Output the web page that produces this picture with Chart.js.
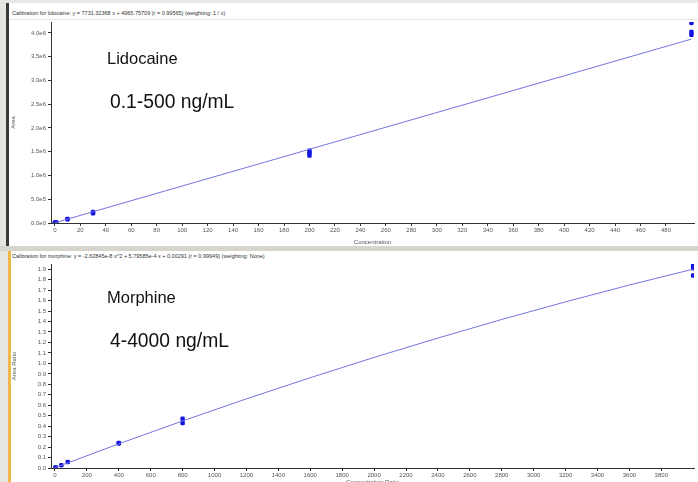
<!DOCTYPE html>
<html>
<head>
<meta charset="utf-8">
<script src="https://cdn.jsdelivr.net/npm/chart.js@4"></script>
<style>
  html, body { margin: 0; padding: 0; background: #fff; }
  #page { position: relative; width: 698px; height: 482px; overflow: hidden; background: #fff; font-family: "Liberation Sans", Arial, sans-serif; }
  .band { position: absolute; }
  .ptitle { position: absolute; left: 12px; font-size: 5.5px; color: #333; white-space: nowrap; }
  .note { position: absolute; color: #111; white-space: nowrap; }
  .box { position: absolute; }
</style>
</head>
<body>
<div id="page">
  <div class="band" style="left:0;top:0;width:698px;height:3px;background:#e8e8e4"></div>
  <div class="band" style="left:0;top:0;width:6px;height:246px;background:#e6e6e0"></div>
  <div class="band" style="left:6px;top:3px;width:3px;height:243px;background:#3a3a3a"></div>
  <div class="band" style="left:9px;top:19px;width:689px;height:1px;background:#e4e4e4"></div>
  <div class="ptitle" id="t1" style="top:10px"></div>

  <div class="band" style="left:0;top:246px;width:698px;height:5px;background:#d6d4cc"></div>
  <div class="band" style="left:0;top:251px;width:8px;height:231px;background:#e6e6e0"></div>
  <div class="band" style="left:8px;top:251px;width:3px;height:231px;background:#f0b848"></div>
  <div class="ptitle" id="t2" style="top:253px"></div>

  <div class="box" style="left:10px;top:16px;width:688px;height:230px"><canvas id="lido"></canvas></div>
  <div class="box" style="left:11px;top:252px;width:687px;height:234px"><canvas id="morph"></canvas></div>

  <div class="note" style="left:107px;top:49px;font-size:16.5px">Lidocaine</div>
  <div class="note" style="left:110px;top:91px;font-size:19.3px">0.1-500 ng/mL</div>
  <div class="note" style="left:107px;top:288px;font-size:16.5px">Morphine</div>
  <div class="note" style="left:110px;top:330px;font-size:19.3px">4-4000 ng/mL</div>
</div>
<script>
const lidoTitle = "Calibration for lidocaine: y = 7731.32368 x + 4965.75709 (r = 0.99565) (weighting: 1 / x)";
const morphTitle = "Calibration for morphine: y = -2.62845e-8 x^2 + 5.79585e-4 x + 0.00291 (r = 0.99949) (weighting: None)";

// lidocaine calibration points
const lidoConc = [0.1, 0.1, 1, 1, 10, 10, 30, 30, 200, 200, 200, 500, 500, 500];
const lidoArea = [5000, 6500, 12000, 13000, 85000, 80000, 230000, 205000, 1420000, 1470000, 1520000, 3960000, 4020000, 4210000];
const lidoFitConc = [0, 500];
const lidoFitArea = [4966, 3870600];
const lidoYTicks = [0, 500000, 1000000, 1500000, 2000000, 2500000, 3000000, 3500000, 4000000];
const lidoXTicks = [0, 20, 40, 60, 80, 100, 120, 140, 160, 180, 200, 220, 240, 260, 280, 300, 320, 340, 360, 380, 400, 420, 440, 460, 480];

// morphine calibration points
const morphConc = [4, 4, 40, 80, 400, 400, 800, 800, 4000, 4000, 4000];
const morphRatio = [0.003, 0.005, 0.027, 0.057, 0.235, 0.24, 0.43, 0.47, 1.84, 1.91, 1.935];
const morphFitConc = [0, 400, 800, 1200, 1600, 2000, 2400, 2800, 3200, 3600, 4000];
const morphFitRatio = [0.003, 0.231, 0.450, 0.661, 0.863, 1.057, 1.242, 1.420, 1.588, 1.749, 1.901];
const morphYTicks = [0, 0.1, 0.2, 0.3, 0.4, 0.5, 0.6, 0.7, 0.8, 0.9, 1.0, 1.1, 1.2, 1.3, 1.4, 1.5, 1.6, 1.7, 1.8, 1.9];
const morphXTicks = [0, 200, 400, 600, 800, 1000, 1200, 1400, 1600, 1800, 2000, 2200, 2400, 2600, 2800, 3000, 3200, 3400, 3600, 3800];

document.getElementById("t1").textContent = lidoTitle;
document.getElementById("t2").textContent = morphTitle;

const AXIS = "#333";
const TXT = "#555";
const FONT = { family: "'Liberation Sans', Arial, sans-serif", size: 6 };

const pts = (xs, ys) => xs.map((x, i) => ({ x, y: ys[i] }));

function makeChart(id, o) {
  return new Chart(document.getElementById(id), {
    type: "scatter",
    data: {
      datasets: [
        {
          type: "line", data: pts(o.fitX, o.fitY),
          borderColor: "#7474e0", borderWidth: 1, pointRadius: 0, tension: 0, fill: false,
        },
        {
          data: pts(o.x, o.y),
          pointStyle: "rectRounded", pointRadius: 2.6,
          backgroundColor: "#1414e0", borderColor: "#1414e0", borderWidth: 0,
        },
      ],
    },
    options: {
      animation: false,
      responsive: true,
      maintainAspectRatio: false,
      layout: { padding: { left: 0, right: 4, top: o.padTop, bottom: 0 } },
      plugins: { legend: { display: false }, tooltip: { enabled: false } },
      scales: {
        x: {
          type: "linear", min: o.xMin, max: o.xMax,
          afterBuildTicks: s => { s.ticks = o.xTicks.map(v => ({ value: v })); },
          afterFit: s => { s.height = o.xHeight; },
          ticks: { color: TXT, font: FONT, padding: 1, maxRotation: 0, autoSkip: false, callback: v => String(v) },
          grid: { drawOnChartArea: false, drawTicks: true, tickLength: 3, color: AXIS },
          border: { color: AXIS, width: 1 },
          title: { display: true, text: o.xTitle, color: TXT, font: FONT, padding: { top: 0, bottom: 0 } },
        },
        y: {
          type: "linear", min: o.yMin, max: o.yMax,
          afterBuildTicks: s => { s.ticks = o.yTicks.map(v => ({ value: v })); },
          afterFit: s => { s.width = o.yWidth; },
          ticks: { color: TXT, font: FONT, padding: 2, callback: o.yFmt },
          grid: { drawOnChartArea: false, drawTicks: true, tickLength: 3, color: AXIS },
          border: { color: AXIS, width: 1 },
          title: { display: true, text: o.yTitle, color: TXT, font: FONT, padding: 0 },
        },
      },
    },
  });
}

makeChart("lido", {
  x: lidoConc, y: lidoArea, fitX: lidoFitConc, fitY: lidoFitArea,
  xTicks: lidoXTicks, yTicks: lidoYTicks,
  xMin: -3, xMax: 502, yMin: 0, yMax: 4230000,
  padTop: 6, xHeight: 23, yWidth: 41,
  xTitle: "Concentration", yTitle: "Area",
  yFmt: v => v.toExponential(1).replace("+", ""),
});

makeChart("morph", {
  x: morphConc, y: morphRatio, fitX: morphFitConc, fitY: morphFitRatio,
  xTicks: morphXTicks, yTicks: morphYTicks,
  xMin: -25, xMax: 4005, yMin: 0, yMax: 1.95,
  padTop: 12, xHeight: 18, yWidth: 40,
  xTitle: "Concentration Ratio", yTitle: "Area Ratio",
  yFmt: v => v.toFixed(1),
});
</script>
</body>
</html>
